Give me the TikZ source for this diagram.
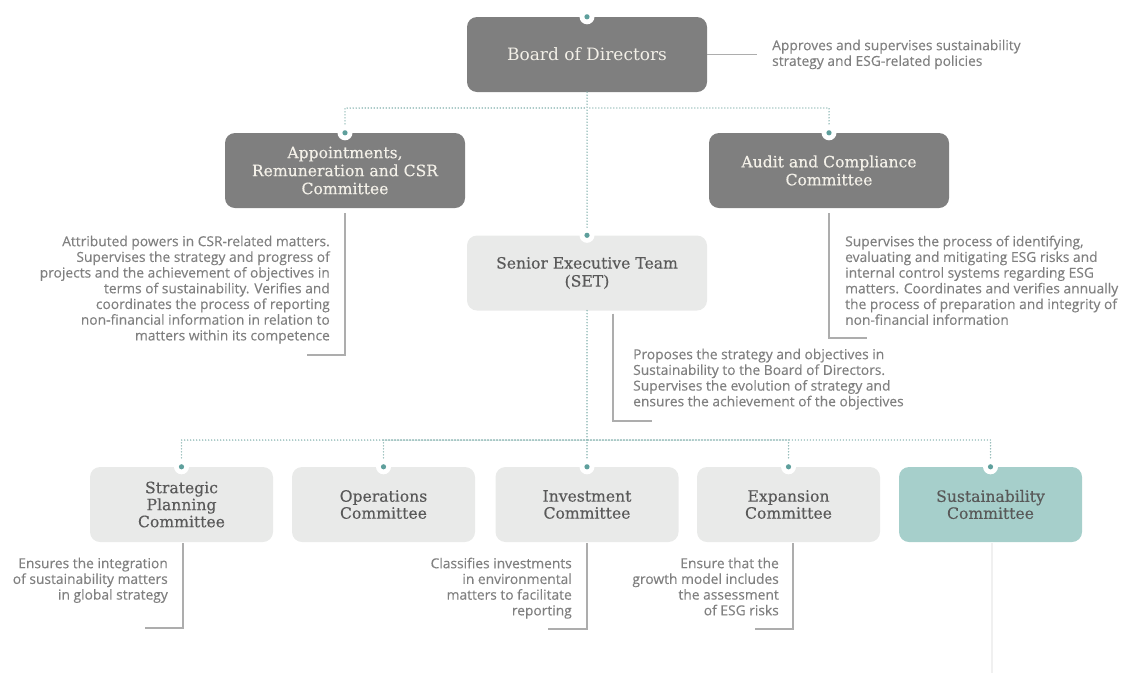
\documentclass[tikz,border=0pt]{standalone}
\usepackage{fontspec}
\setmainfont{DejaVu Serif}
\newfontfamily\notefont[FakeBold=0.25]{Open Sans}
\newfontfamily\boxfont[FakeBold=0.35]{DejaVu Serif}
\definecolor{boxdark}{HTML}{7F7F7F}
\definecolor{boxtext}{HTML}{F3F0E8}
\definecolor{boxlight}{HTML}{E9EAE9}
\definecolor{lighttext}{HTML}{595959}
\definecolor{susfill}{HTML}{A6CFCB}
\definecolor{busc}{HTML}{8FB8B5}
\definecolor{dotc}{HTML}{5E9F9C}
\definecolor{notegray}{HTML}{808080}
\definecolor{leadc}{HTML}{ADADAD}
\begin{document}
\begin{tikzpicture}[x=1pt,y=-1pt,
  box/.style={rounded corners=10pt, minimum height=75pt, align=center, inner sep=0pt,
    font=\boxfont\fontsize{15.6}{18}\selectfont},
  widebox/.style={box, minimum width=240pt},
  narrowbox/.style={box, minimum width=183pt, font=\boxfont\fontsize{15.6}{17}\selectfont},
  dark/.style={fill=boxdark, text=boxtext},
  light/.style={fill=boxlight, text=lighttext},
  green/.style={fill=susfill, text=lighttext},
  note/.style={inner sep=0pt, text=notegray, font=\notefont\fontsize{13.8}{15.7}\selectfont},
  bus/.style={draw=busc, line width=1.6pt, dash pattern=on 0pt off 3pt, line cap=round},
  lead/.style={draw=leadc, line width=1.2pt},
  faint/.style={draw=black!6, line width=1.2pt}]
\useasboundingbox (0,0) rectangle (1126,673);

% governing bodies
\node[widebox, dark, font=\rmfamily\fontsize{17}{20}\selectfont] (board) at (587,54.5) {Board of Directors};
\node[widebox, dark] (arc) at (345,170.5) {Appointments,\\Remuneration and CSR\\Committee};
\node[widebox, dark] (acc) at (829,170.5) {Audit and Compliance\\Committee};
\node[widebox, light] (set) at (587,273) {Senior Executive Team\\(SET)};

% executive committees
\node[narrowbox, light] (spc) at (181.5,504.5) {Strategic\\Planning\\Committee};
\node[narrowbox, light] (opc) at (383.5,504.5) {Operations\\Committee};
\node[narrowbox, light] (inv) at (587,504.5) {Investment\\Committee};
\node[narrowbox, light] (exp) at (788.5,504.5) {Expansion\\Committee};
\node[narrowbox, green] (sus) at (990.5,504.5) {Sustainability\\Committee};

% dotted reporting lines
\coordinate (tophub) at (587,108);
\coordinate (lowhub) at (587,440);
\draw[bus] (board.south) -- (set.north);
\draw[bus] (arc.north) |- (tophub);
\draw[bus] (acc.north) |- (tophub);
\draw[bus] (set.south) -- (inv.north);
\draw[bus] (spc.north) |- (lowhub);
\draw[bus] (opc.north) |- (lowhub);
\draw[bus] (exp.north) |- (lowhub);
\draw[bus] (sus.north) |- (lowhub);

% notches with dots on top of every box
\foreach \b in {board,arc,acc,set,spc,opc,inv,exp,sus}{
  \fill[white] (\b.north) circle (7.5pt);
  \fill[dotc] (\b.north) circle (2.6pt);
}

% descriptions
\node[note, anchor=north west, align=left] (bdnote) at (772,39.5)
  {Approves and supervises sustainability\\strategy and ESG-related policies};
\node[note, anchor=north east, align=right] (arcnote) at (330,235.5)
  {Attributed powers in CSR-related matters.\\Supervises the strategy and progress of\\projects and the achievement of objectives in\\terms of sustainability. Verifies and\\coordinates the process of reporting\\non-financial information in relation to\\matters within its competence};
\node[note, anchor=north west, align=left] (accnote) at (845,235.5)
  {Supervises the process of identifying,\\evaluating and mitigating ESG risks and\\internal control systems regarding ESG\\matters. Coordinates and verifies annually\\the process of preparation and integrity of\\non-financial information};
\node[note, anchor=north west, align=left] (setnote) at (633,348.5)
  {Proposes the strategy and objectives in\\Sustainability to the Board of Directors.\\Supervises the evolution of strategy and\\ensures the achievement of the objectives};
\node[note, anchor=north east, align=right] (spcnote) at (168,557.5)
  {Ensures the integration\\of sustainability matters\\in global strategy};
\node[note, anchor=north east, align=right] (invnote) at (572,557.5)
  {Classifies investments\\in environmental\\matters to facilitate\\reporting};
\node[note, anchor=north east, align=right] (expnote) at (779,557.5)
  {Ensure that the\\growth model includes\\the assessment\\of ESG risks};

% leader lines
\coordinate (bdL) at (757,54.5);
\coordinate (arcL) at (307,355);
\coordinate (accL) at (867,338);
\coordinate (setL) at (652,421);
\coordinate (spcL) at (145,628);
\coordinate (invL) at (548,629);
\coordinate (expL) at (755,629);
\coordinate (susE) at (992,673);
\draw[lead] (board.east) -- (bdL);
\draw[lead] ([yshift=-5pt]arc.south) |- (arcL);
\draw[lead] ([yshift=-5pt]acc.south) |- (accL);
\draw[lead] ([xshift=26pt,yshift=-3pt]set.south) |- (setL);
\draw[lead] ([xshift=1.5pt,yshift=-1pt]spc.south) |- (spcL);
\draw[lead] ([yshift=-1pt]inv.south) |- (invL);
\draw[lead] ([xshift=4.5pt,yshift=-1pt]exp.south) |- (expL);
\draw[faint] ([xshift=1.5pt,yshift=-1pt]sus.south) -- (susE);
\end{tikzpicture}
\end{document}
